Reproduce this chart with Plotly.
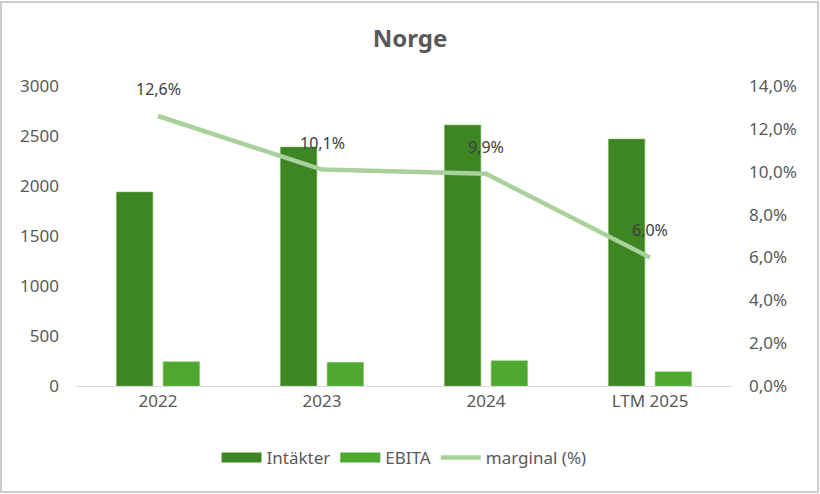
import plotly.graph_objects as go

categories = ["2022", "2023", "2024", "LTM 2025"]
intakter = [1940, 2390, 2610, 2470]
ebita = [243, 237, 253, 143]
marginal = [0.126, 0.101, 0.099, 0.060]
left_ticks = [0, 500, 1000, 1500, 2000, 2500, 3000]
right_ticks = [0, 0.02, 0.04, 0.06, 0.08, 0.10, 0.12, 0.14]

font_name = "Noto Sans"
grey = "#595959"
dark_green = "#3E8624"
mid_green = "#4EA72E"
light_green = "#A9D19B"

fig = go.Figure()
fig.add_trace(go.Bar(
    x=categories, y=intakter, name="Intäkter", showlegend=False,
    marker=dict(color=dark_green, line=dict(color="#7fb56a", width=0.6)),
))
fig.add_trace(go.Bar(
    x=categories, y=ebita, name="EBITA", showlegend=False,
    marker=dict(color=mid_green, line=dict(color="#8cc878", width=0.6)),
))
fig.add_trace(go.Scatter(
    x=categories, y=marginal, name="marginal (%)", yaxis="y2", showlegend=False,
    mode="lines", line=dict(color=light_green, width=4.5),
))

# legend entries drawn as wide blocks, like the Excel legend
for name, color, width in [("Intäkter", dark_green, 10), ("EBITA", mid_green, 10),
                           ("marginal (%)", light_green, 4.5)]:
    fig.add_trace(go.Scatter(x=[None], y=[None], name=name, mode="lines",
                             line=dict(color=color, width=width)))

# data labels for the margin line (x given as category index)
for i, m in enumerate(marginal):
    fig.add_annotation(
        x=i, y=m, yref="y2", text=f"{m * 100:.1f}%".replace(".", ","),
        showarrow=False, yshift=27,
        font=dict(family=font_name, size=16, color="#404040"),
    )

fig.update_layout(
    width=820, height=494,
    margin=dict(l=76, r=88, t=86, b=108),
    paper_bgcolor="white", plot_bgcolor="white",
    separators=",.",
    font=dict(family=font_name, size=17, color=grey),
    title=dict(text="<b>Norge</b>", x=0.5, xanchor="center", y=0.921, yanchor="middle",
               font=dict(family=font_name, size=24, color=grey)),
    barmode="group", bargap=0.43, bargroupgap=0.22,
    xaxis=dict(type="category", range=[-0.5, 3.5], showline=True, linecolor="#d9d9d9",
               linewidth=1, ticks="", tickfont=dict(size=17, color=grey)),
    yaxis=dict(range=[0, 3000], tickvals=left_ticks, showgrid=False, zeroline=False,
               showline=False, ticks="", ticklabelstandoff=16,
               tickfont=dict(size=17, color=grey)),
    yaxis2=dict(range=[0, 0.14], tickvals=right_ticks, tickformat=".1%",
                overlaying="y", side="right", showgrid=False, zeroline=False,
                showline=False, ticks="", ticklabelstandoff=16,
                tickfont=dict(size=17, color=grey)),
    legend=dict(orientation="h", x=0.5, xanchor="center", y=-0.24, yanchor="middle",
                font=dict(size=17, color=grey), itemwidth=40),
)

# outer chart border
fig.add_shape(type="rect", xref="paper", yref="paper",
              x0=-75 / 656, x1=1 + 86 / 656, y0=-106 / 300, y1=1 + 84 / 300,
              line=dict(color="#bfbfbf", width=1.5))

fig.write_html("out.html", config={"displayModeBar": False},
               post_script="document.body.style.margin='0';")
